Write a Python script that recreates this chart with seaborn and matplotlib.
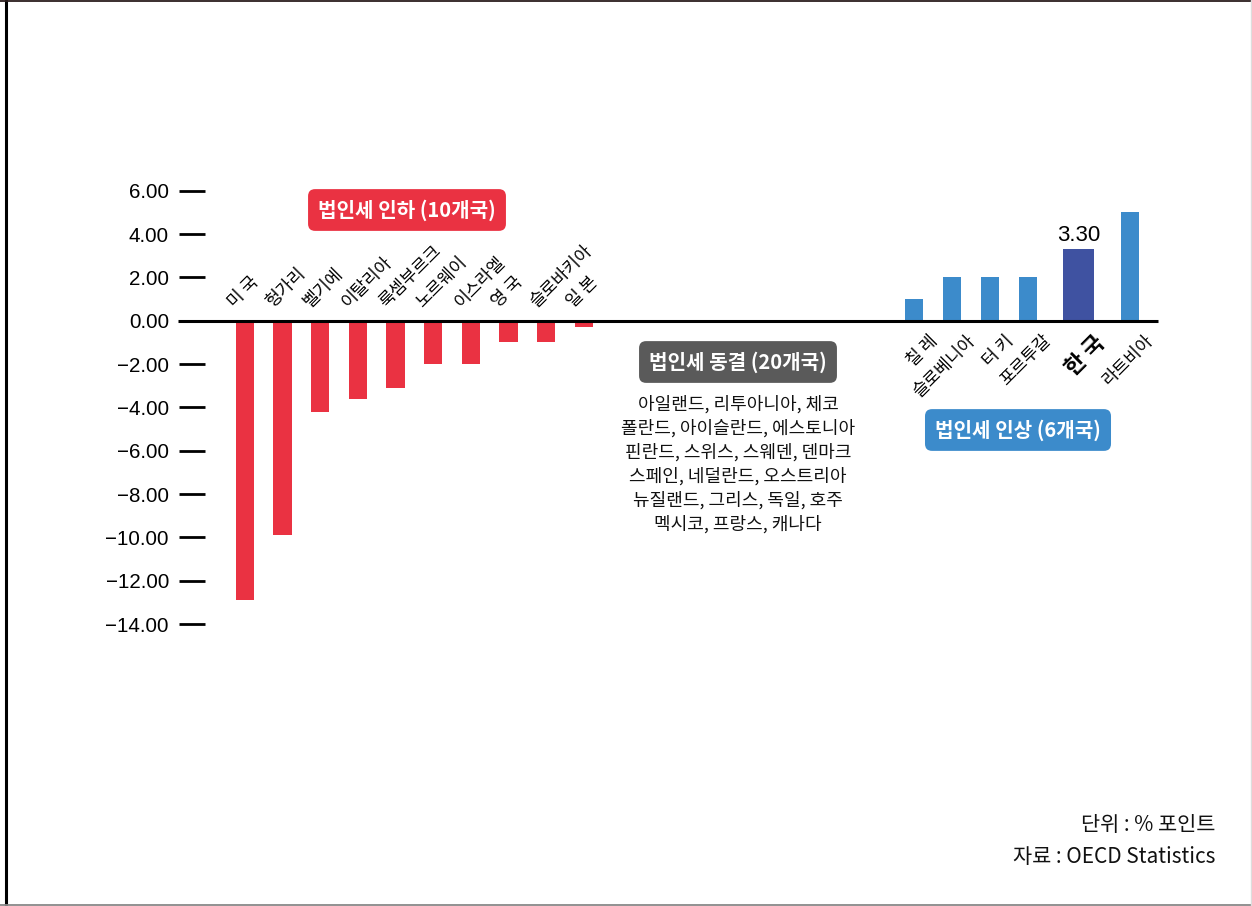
import matplotlib
matplotlib.use("Agg")
import matplotlib.pyplot as plt
import pandas as pd
import seaborn as sns
from matplotlib.lines import Line2D

# ---- data -------------------------------------------------------------
countries = ["미 국", "헝가리", "벨기에", "이탈리아", "룩셈부르크", "노르웨이",
             "이스라엘", "영 국", "슬로바키아", "일 본",
             "칠 레", "슬로베니아", "터 키", "포르투갈", "한 국", "라트비아"]
changes = [-12.9, -9.9, -4.2, -3.6, -3.1, -2.0, -2.0, -1.0, -1.0, -0.3,
           1.0, 2.0, 2.0, 2.0, 3.3, 5.0]
groups = ["cut"] * 10 + ["raise"] * 6
highlight = "한 국"
highlight_value = 3.30

frozen_countries = [
    "아일랜드, 리투아니아, 체코",
    "폴란드, 아이슬란드, 에스토니아",
    "핀란드, 스위스, 스웨덴, 덴마크",
    "스페인, 네덜란드, 오스트리아",
    "뉴질랜드, 그리스, 독일, 호주",
    "멕시코, 프랑스, 캐나다",
]
y_ticks = [6, 4, 2, 0, -2, -4, -6, -8, -10, -12, -14]

cut_title = "법인세 인하 (10개국)"
freeze_title = "법인세 동결 (20개국)"
raise_title = "법인세 인상 (6개국)"
unit_note = "단위 : % 포인트"
source_note = "자료 : OECD Statistics"

# ---- layout -----------------------------------------------------------
slots = [0, 1, 2, 3, 4, 5, 6, 7, 8, 9, 17.76, 18.76, 19.77, 20.77, 22.12, 23.48]

RED = "#EA3242"
BLUE = "#3C8BCB"
NAVY = "#3F52A1"
GRAY = "#5A5A5A"
KR = ["Noto Sans CJK KR", "DejaVu Sans"]
NUM = ["Liberation Sans", "DejaVu Sans"]

W, H = 1252, 906
fig = plt.figure(figsize=(W / 100, H / 100), dpi=100)
sns.set_style("white")
plt.rcParams["font.family"] = KR
plt.rcParams["axes.unicode_minus"] = True

ax_l, ax_r, ax_t, ax_b = 205, 1158, 170, 650
ax = fig.add_axes([ax_l / W, 1 - ax_b / H, (ax_r - ax_l) / W, (ax_b - ax_t) / H])

df = pd.DataFrame({"slot": slots, "change": changes, "group": groups, "country": countries})
sns.barplot(data=df, x="slot", y="change", native_scale=True, width=0.485,
            color=RED, errorbar=None, ax=ax, saturation=1)

# colour each bar by its group; widen the highlighted bar
for p in ax.patches:
    cx = p.get_x() + p.get_width() / 2
    i = min(range(len(slots)), key=lambda k: abs(slots[k] - cx))
    if countries[i] == highlight:
        p.set_facecolor(NAVY)
        p.set_width(0.82)
        p.set_x(slots[i] - 0.41)
    elif groups[i] == "raise":
        p.set_facecolor(BLUE)
    else:
        p.set_facecolor(RED)
    p.set_edgecolor("none")

slot_px = 37.7
ax.set_xlim((ax_l - 244.7) / slot_px, (ax_r - 244.7) / slot_px)
ax.set_ylim(-(ax_b - 320.7) / 21.67, (320.7 - ax_t) / 21.67)
for s in ax.spines.values():
    s.set_visible(False)
ax.set_xticks([])
ax.set_xlabel("")
ax.set_ylabel("")
ax.set_yticks(y_ticks)
ax.set_yticklabels([f"{v:.2f}".replace("-", "\u2212") for v in y_ticks],
                   fontfamily=NUM, fontsize=14.8)
ax.tick_params(axis="y", left=True, length=19, width=2, pad=7, color="black",
               labelcolor="black", direction="out")

# zero line running from the tick marks to the right end
ax.plot([-27 / (ax_r - ax_l), 1], [0, 0], transform=ax.get_yaxis_transform(),
        color="black", lw=2.2, clip_on=False, solid_capstyle="butt")

# country names
for s, name, val, g in zip(slots, countries, changes, groups):
    if g == "cut":
        ax.text(s - 0.2, 0.45, name, rotation=45, rotation_mode="anchor",
                ha="left", va="bottom", fontsize=12.5, color="black")
    else:
        big = name == highlight
        ax.text(s + 0.38, -0.5, name, rotation=45, rotation_mode="anchor",
                ha="right", va="top", fontsize=16 if big else 12.5,
                fontweight="bold" if big else "normal", color="black")

# value label above the highlighted bar
hi = countries.index(highlight)
ax.text(slots[hi], highlight_value + 0.15, f"{highlight_value:.2f}", ha="center",
        va="bottom", fontsize=16, fontfamily=NUM, color="black")


def fx(px):
    return px / W


def fy(py):
    return 1 - py / H


def tag(x, y, text, color):
    fig.text(fx(x), fy(y), text, ha="center", va="center", color="white",
             fontsize=14.5, fontweight="bold",
             bbox=dict(boxstyle="round,pad=0.5,rounding_size=0.35",
                       fc=color, ec="none"))


tag(407, 210, cut_title, RED)
tag(738, 362, freeze_title, GRAY)
tag(1018, 430, raise_title, BLUE)

for k, line in enumerate(frozen_countries):
    fig.text(fx(738), fy(404 + 24 * k), line, ha="center", va="center",
             fontsize=13, color="#111111")

fig.text(fx(1215), fy(825), unit_note, ha="right", va="center", fontsize=15,
         color="#111111")
fig.text(fx(1215), fy(857), source_note, ha="right", va="center", fontsize=15,
         color="#111111")

# frame
fig.add_artist(Line2D([fx(6), fx(6)], [0, 1], color="black", lw=2.2,
                      transform=fig.transFigure))
fig.add_artist(Line2D([0, 1], [fy(0.8), fy(0.8)], color="#2b1d1d", lw=1.3,
                      transform=fig.transFigure))
fig.add_artist(Line2D([0, 1], [fy(904.5), fy(904.5)], color="#888888", lw=1.3,
                      transform=fig.transFigure))
fig.add_artist(Line2D([fx(1251), fx(1251)], [0, 1], color="#dddddd", lw=1,
                      transform=fig.transFigure))

fig.savefig("out.png", dpi=100, facecolor="white")
